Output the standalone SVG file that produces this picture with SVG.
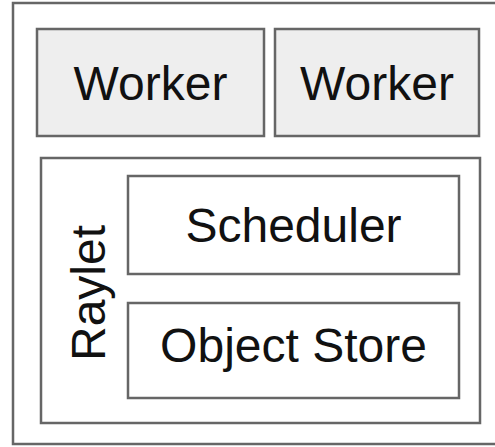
<svg xmlns="http://www.w3.org/2000/svg" width="495" height="447" viewBox="0 0 495 447">
<style>
.box{fill:#ffffff;stroke:#666666;stroke-width:2.5}
.worker{fill:#eeeeee;stroke:#666666;stroke-width:2.5}
.lbl{font-family:"Liberation Sans",Arial,sans-serif;font-size:48px;fill:#111111;text-anchor:middle}
</style>
<rect width="495" height="447" fill="#ffffff"/>
<g id="node">
<rect class="box" x="13" y="3" width="492" height="441"/>
</g>
<g id="worker1">
<rect class="worker" x="37" y="29" width="227" height="107"/>
<text class="lbl" x="150.5" y="100">Worker</text>
</g>
<g id="worker2">
<rect class="worker" x="275" y="29" width="204" height="107"/>
<text class="lbl" x="377" y="100">Worker</text>
</g>
<g id="raylet">
<rect class="box" x="41" y="158" width="439" height="265"/>
<text class="lbl" transform="translate(105,293) rotate(-90)">Raylet</text>
</g>
<g id="scheduler">
<rect class="box" x="128" y="176" width="331" height="98"/>
<text class="lbl" x="293.5" y="242">Scheduler</text>
</g>
<g id="objectstore">
<rect class="box" x="128" y="303" width="331" height="95"/>
<text class="lbl" x="293.5" y="362">Object Store</text>
</g>
<g id="connectors"></g>
</svg>
